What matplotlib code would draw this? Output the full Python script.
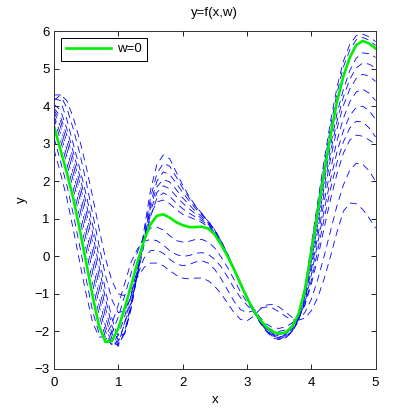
import numpy as np
import matplotlib
matplotlib.use('Agg')
import matplotlib.pyplot as plt

plt.rcParams['font.family'] = ['Liberation Sans', 'DejaVu Sans']

# x grid shared by every curve
x = np.round(np.linspace(0, 5, 51), 1)

# w = 0 curve
y_w0 = [3.47, 2.85, 2.23, 1.55, 0.72, -0.15, -1.05, -1.85, -2.28, -2.26, -1.92, -1.38, -0.78,
        -0.15, 0.42, 0.85, 1.08, 1.12, 1.03, 0.91, 0.83, 0.78, 0.78, 0.79, 0.74,
        0.58, 0.31, 0.0, -0.35, -0.73, -1.10, -1.43, -1.68, -1.88, -2.01, -2.06, -2.03, -1.88, -1.55, -0.90,
        0.10, 1.18, 2.22, 3.22, 4.12, 4.80, 5.30, 5.63, 5.74, 5.67, 5.54]

# the other w values (dashed), estimated curve by curve
y_w1 = [2.85, 2.23, 1.55, 0.72, -0.15, -1.0, -1.75, -2.15, -2.15, -1.8, -1.3, -0.72, -0.15,
        0.2, 0.4, 0.45, 0.42, 0.3, 0.15, 0.05, 0.0, 0.02, 0.08, 0.1, 0.05,
        -0.08, -0.28, -0.55, -0.85, -1.1, -1.3, -1.48, -1.68, -1.88, -2.05, -2.15, -2.15, -2.0, -1.6, -0.85,
        0.3, 1.45, 2.55, 3.6, 4.5, 5.2, 5.65, 5.88, 5.92, 5.85, 5.72]
y_w2 = [3.17, 2.54, 1.9, 1.13, 0.28, -0.6, -1.45, -2.05, -2.22, -2.05, -1.62, -1.05, -0.45,
        0.12, 0.55, 0.75, 0.78, 0.7, 0.55, 0.42, 0.38, 0.4, 0.45, 0.45, 0.38,
        0.22, -0.02, -0.3, -0.62, -0.95, -1.22, -1.45, -1.7, -1.92, -2.08, -2.12, -2.08, -1.92, -1.55, -0.85,
        0.22, 1.35, 2.42, 3.45, 4.35, 5.05, 5.5, 5.77, 5.83, 5.76, 5.62]
y_w3 = [3.7, 3.1, 2.48, 1.82, 1.05, 0.2, -0.7, -1.55, -2.15, -2.35, -2.1, -1.6, -1.0,
        -0.3, 0.45, 1.1, 1.45, 1.5, 1.4, 1.25, 1.12, 1.05, 0.98, 0.9, 0.78,
        0.6, 0.33, 0.0, -0.36, -0.75, -1.12, -1.45, -1.72, -1.95, -2.1, -2.15, -2.1, -1.95, -1.62, -1.0,
        -0.05, 1.0, 2.0, 2.95, 3.8, 4.45, 4.95, 5.28, 5.42, 5.4, 5.3]
y_w4 = [3.75, 3.28, 2.66, 2.03, 1.3, 0.46, -0.42, -1.3, -2.0, -2.38, -2.25, -1.8, -1.2,
        -0.5, 0.3, 1.05, 1.55, 1.69, 1.6, 1.42, 1.27, 1.15, 1.05, 0.95, 0.82,
        0.63, 0.35, 0.02, -0.35, -0.74, -1.12, -1.45, -1.74, -1.98, -2.14, -2.2, -2.15, -2.0, -1.68, -1.08,
        -0.15, 0.85, 1.85, 2.78, 3.6, 4.25, 4.72, 5.02, 5.15, 5.12, 5.02]
y_w5 = [3.85, 3.47, 2.85, 2.23, 1.55, 0.72, -0.15, -1.05, -1.85, -2.32, -2.35, -1.75, -1.05,
        -0.35, 0.45, 1.2, 1.7, 1.88, 1.8, 1.6, 1.42, 1.27, 1.13, 1.0, 0.85,
        0.65, 0.36, 0.02, -0.35, -0.74, -1.12, -1.45, -1.76, -2.0, -2.17, -2.22, -2.18, -2.02, -1.72, -1.15,
        -0.25, 0.7, 1.68, 2.6, 3.4, 4.02, 4.46, 4.74, 4.85, 4.8, 4.66]
y_w6 = [3.9, 3.62, 3.04, 2.43, 1.75, 0.97, 0.12, -0.78, -1.6, -2.2, -2.4, -2.0, -1.25,
        -0.45, 0.45, 1.3, 1.85, 2.05, 1.98, 1.78, 1.56, 1.38, 1.2, 1.05, 0.88,
        0.67, 0.38, 0.03, -0.35, -0.74, -1.12, -1.45, -1.75, -1.98, -2.12, -2.17, -2.14, -2.0, -1.72, -1.2,
        -0.38, 0.52, 1.45, 2.32, 3.08, 3.68, 4.12, 4.38, 4.45, 4.35, 4.15]
y_w7 = [3.95, 3.73, 3.22, 2.6, 1.96, 1.2, 0.37, -0.52, -1.37, -2.05, -2.35, -2.05, -1.3,
        -0.45, 0.5, 1.4, 2.0, 2.25, 2.18, 1.95, 1.7, 1.48, 1.28, 1.1, 0.92,
        0.7, 0.4, 0.05, -0.33, -0.72, -1.1, -1.43, -1.72, -1.93, -2.05, -2.08, -2.04, -1.92, -1.68, -1.25,
        -0.5, 0.35, 1.22, 2.05, 2.78, 3.35, 3.75, 3.97, 4.0, 3.88, 3.65]
y_w8 = [4.05, 3.9, 3.4, 2.78, 2.15, 1.42, 0.62, -0.27, -1.12, -1.85, -2.25, -2.05, -1.35,
        -0.45, 0.6, 1.55, 2.2, 2.48, 2.4, 2.12, 1.82, 1.56, 1.33, 1.13, 0.93,
        0.7, 0.4, 0.06, -0.32, -0.7, -1.08, -1.42, -1.68, -1.87, -1.97, -2.0, -1.96, -1.86, -1.66, -1.3,
        -0.65, 0.15, 1.0, 1.8, 2.5, 3.05, 3.42, 3.6, 3.58, 3.42, 3.18]
y_w9 = [4.2, 4.15, 3.65, 3.0, 2.35, 1.65, 0.85, 0.0, -0.9, -1.65, -2.15, -2.05, -1.4,
        -0.45, 0.7, 1.75, 2.45, 2.7, 2.6, 2.25, 1.9, 1.6, 1.35, 1.14, 0.93,
        0.7, 0.4, 0.06, -0.32, -0.7, -1.06, -1.38, -1.62, -1.8, -1.9, -1.92, -1.88, -1.78, -1.6, -1.3,
        -0.75, -0.05, 0.75, 1.52, 2.2, 2.75, 3.1, 3.23, 3.2, 3.1, 2.98]
y_w10 = [4.3, 4.3, 3.95, 3.4, 2.75, 2.0, 1.15, 0.3, -0.5, -1.15, -1.5, -1.45, -1.05,
         -0.5, -0.05, 0.15, 0.17, 0.08, -0.08, -0.2, -0.25, -0.22, -0.15, -0.12, -0.18,
         -0.35, -0.6, -0.9, -1.2, -1.42, -1.5, -1.45, -1.38, -1.35, -1.38, -1.48, -1.6, -1.7, -1.68, -1.5,
         -1.15, -0.62, 0.0, 0.68, 1.35, 1.9, 2.3, 2.48, 2.45, 2.28, 2.0]
y_w11 = [4.15, 4.3, 4.15, 3.7, 3.1, 2.4, 1.6, 0.75, -0.05, -0.65, -1.0, -1.05, -0.85,
         -0.55, -0.3, -0.18, -0.18, -0.25, -0.38, -0.5, -0.58, -0.6, -0.58, -0.58, -0.65,
         -0.8, -1.0, -1.25, -1.5, -1.68, -1.72, -1.6, -1.42, -1.3, -1.28, -1.35, -1.48, -1.62, -1.7, -1.65,
         -1.45, -1.1, -0.6, 0.0, 0.65, 1.2, 1.42, 1.4, 1.25, 1.02, 0.75]

dashed = [y_w1, y_w2, y_w3, y_w4, y_w5, y_w6, y_w7, y_w8, y_w9, y_w10, y_w11]

fig = plt.figure(figsize=(4.15, 4.15), dpi=100)
ax = fig.add_axes([0.130, 0.111, 0.775, 0.814])

for y in dashed:
    ax.plot(x, y, color='#0000ff', lw=0.6, dashes=(8.5, 6))
ax.plot(x, y_w0, color='#00f000', lw=1.9, label='w=0')

ax.set_xlim(0, 5)
ax.set_ylim(-3, 6)
ax.set_xticks(range(0, 6))
ax.set_yticks(range(-3, 7))
ax.set_yticklabels(['\u22123', '\u22122', '\u22121', '0', '1', '2', '3', '4', '5', '6'])
ax.tick_params(direction='in', length=3.5, width=0.6, top=True, right=True, labelsize=9.5)
ax.tick_params(axis='x', pad=5.5)
ax.tick_params(axis='y', pad=3)
for s in ax.spines.values():
    s.set_linewidth(0.7)
    s.set_color('#333333')

ax.set_title('y=f(x,w)', fontsize=9.5, pad=11)
ax.set_xlabel('x', fontsize=9.5, labelpad=4)
ax.set_ylabel('y', fontsize=9.5, labelpad=5)

leg = ax.legend(loc='upper left', fontsize=9.5, fancybox=False, edgecolor='black',
                framealpha=1, handlelength=3.4, handletextpad=0.45,
                borderaxespad=0.5, borderpad=0.4)
leg.get_frame().set_linewidth(0.7)

plt.savefig('out.png', dpi=100)
